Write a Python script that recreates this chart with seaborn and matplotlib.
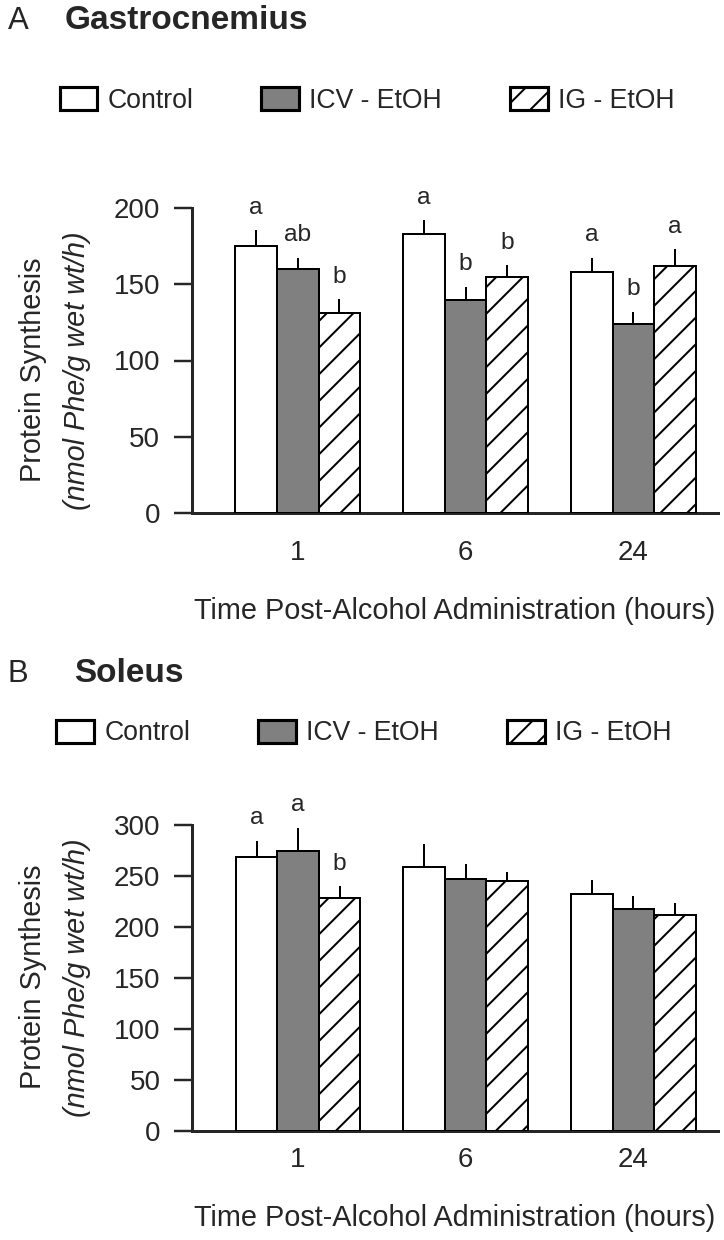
import numpy as np
import pandas as pd
import matplotlib
matplotlib.use("Agg")
import matplotlib.pyplot as plt
from matplotlib.patches import Patch
import seaborn as sns

# ---------------- data ----------------
times = ["1", "6", "24"]
groups = ["Control", "ICV - EtOH", "IG - EtOH"]

gas_control = [175, 183, 158]
gas_icv = [160, 140, 124]
gas_ig = [131, 155, 162]
gas_control_err = [10.5, 9, 9.5]
gas_icv_err = [7.5, 8.5, 8]
gas_ig_err = [9.5, 7.5, 11]
gas_control_sig = ["a", "a", "a"]
gas_icv_sig = ["ab", "b", "b"]
gas_ig_sig = ["b", "b", "a"]

sol_control = [269, 259, 232]
sol_icv = [275, 247, 218]
sol_ig = [228, 245, 212]
sol_control_err = [15.5, 22, 14]
sol_icv_err = [22, 14.5, 12]
sol_ig_err = [12, 9, 12]
sol_control_sig = ["a", "", ""]
sol_icv_sig = ["a", "", ""]
sol_ig_sig = ["b", "", ""]

gas_yticks = [0, 50, 100, 150, 200]
sol_yticks = [0, 50, 100, 150, 200, 250, 300]

colors = {"Control": "#ffffff", "ICV - EtOH": "#808080", "IG - EtOH": "#ffffff"}
hatches = {"Control": "", "ICV - EtOH": "", "IG - EtOH": "//"}

# ---------------- style ----------------
sns.set_style("ticks")
plt.rcParams["font.family"] = ["Liberation Sans", "DejaVu Sans"]
plt.rcParams["hatch.linewidth"] = 0.9
plt.rcParams["hatch.color"] = "black"

W, H, DPI = 724, 1240, 160
fig = plt.figure(figsize=(W / DPI, H / DPI), dpi=DPI)


def fx(px):
    return px / W


def fy(py):
    return 1 - py / H


def panel(ax, means, errs, sigs, yticks, sig_off, xpad):
    df = pd.DataFrame({
        "time": [t for g in groups for t in times],
        "group": [g for g in groups for t in times],
        "value": [v for g in groups for v in means[g]],
    })
    sns.barplot(data=df, x="time", y="value", hue="group", order=times,
                hue_order=groups, palette=colors, width=0.743,
                edgecolor="black", linewidth=0.9, errorbar=None,
                saturation=1, legend=False, ax=ax, zorder=3)
    for cont, g in zip(ax.containers, groups):
        for bar, e, s in zip(cont, errs[g], sigs[g]):
            bar.set_hatch(hatches[g])
            x = bar.get_x() + bar.get_width() / 2
            top = bar.get_height()
            ax.plot([x, x], [top, top + e], color="black", lw=0.9,
                    solid_capstyle="butt", zorder=2, clip_on=False)
            if s:
                ax.annotate(s, xy=(x, top + e), xytext=(0, sig_off),
                            textcoords="offset points", ha="center",
                            va="baseline", fontsize=11,
                            annotation_clip=False)
    ax.set_xlim(-0.633, 2.505)
    ax.set_ylim(yticks[0], yticks[-1])
    ax.set_yticks(yticks)
    sns.despine(ax=ax)
    for sp in ax.spines.values():
        sp.set_linewidth(1.35)
    ax.tick_params(axis="y", length=7.9, width=1.1, pad=6.3, labelsize=12.5,
                   direction="out")
    ax.tick_params(axis="x", length=0, pad=xpad, labelsize=12.5)
    ax.set_ylabel("")
    ax.set_xlabel("Time Post-Alcohol Administration (hours)", fontsize=13,
                  labelpad=14)


# Panel A
axA = fig.add_axes([fx(191.6), fy(513), fx(718) - fx(191.6), (513 - 208) / H])
panel(axA,
      {"Control": gas_control, "ICV - EtOH": gas_icv, "IG - EtOH": gas_ig},
      {"Control": gas_control_err, "ICV - EtOH": gas_icv_err, "IG - EtOH": gas_ig_err},
      {"Control": gas_control_sig, "ICV - EtOH": gas_icv_sig, "IG - EtOH": gas_ig_sig},
      gas_yticks, 7.3, 12)

# Panel B
axB = fig.add_axes([fx(192), fy(1131), fx(718) - fx(192), (1131 - 825) / H])
panel(axB,
      {"Control": sol_control, "ICV - EtOH": sol_icv, "IG - EtOH": sol_ig},
      {"Control": sol_control_err, "ICV - EtOH": sol_icv_err, "IG - EtOH": sol_ig_err},
      {"Control": sol_control_sig, "ICV - EtOH": sol_icv_sig, "IG - EtOH": sol_ig_sig},
      sol_yticks, 7.5, 7)

# Titles
fig.text(fx(8), fy(29), "A", fontsize=14, va="baseline", ha="left")
fig.text(fx(65), fy(29), "Gastrocnemius", fontsize=15, fontweight="bold",
         va="baseline", ha="left")
fig.text(fx(7), fy(682), "B", fontsize=14, va="baseline", ha="left")
fig.text(fx(74), fy(682), "Soleus", fontsize=15, fontweight="bold",
         va="baseline", ha="left")

# Y labels
for yc1, yc2 in [(370, 371), (977, 978)]:
    fig.text(fx(33), fy(yc1), "Protein Synthesis", rotation=90, ha="center",
             va="center", fontsize=13)
    fig.text(fx(77), fy(yc2), "(nmol Phe/g wet wt/h)", rotation=90,
             ha="center", va="center", fontsize=13, style="italic")

# Legends
handles = [Patch(facecolor=colors[g], edgecolor="black", hatch=hatches[g],
                 linewidth=1.4) for g in groups]
for xl, yc in [(59.5, 100.5), (56.5, 733)]:
    fig.legend(handles, groups, loc="center left",
               bbox_to_anchor=(fx(xl), fy(yc)), ncol=3, frameon=False,
               fontsize=12, handlelength=1.42, handleheight=0.97,
               handletextpad=0.38, columnspacing=2.55, borderpad=0,
               borderaxespad=0)

fig.savefig("out.png", dpi=DPI)
